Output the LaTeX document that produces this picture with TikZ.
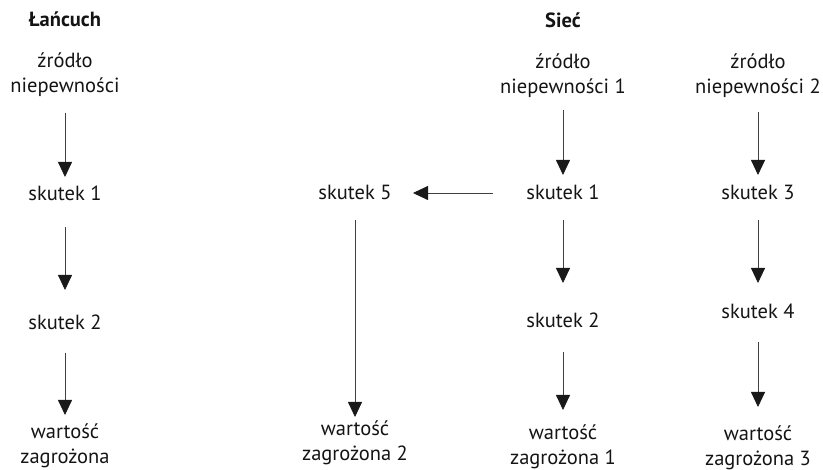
\documentclass[tikz,border=0pt]{standalone}
\usepackage{fontspec}
\setmainfont{PT Sans}
\usetikzlibrary{arrows.meta}
\newcommand{\twoline}[2]{\begin{tabular}[t]{@{}c@{}}#1\\#2\end{tabular}}
\begin{document}
\begin{tikzpicture}[x=1pt,y=-1pt,
  lbl/.style={inner sep=0pt, anchor=base, text=black!92, font=\fontsize{20.5}{24.5}\selectfont},
  ttl/.style={lbl, font=\fontsize{20.5}{24.5}\selectfont\bfseries},
  arr/.style={draw=black!75, line width=0.8pt, -{Triangle[width=14pt,length=15pt,color=black!90]}}
]
\useasboundingbox (0,0) rectangle (823,470);
% column 1: chain
\node[ttl] (t1) at (65,27) {Łańcuch};
\node[lbl] (c1s) at (65,68) {\twoline{źródło}{niepewności}};
\node[lbl] (c1k1) at (65,201) {skutek 1};
\node[lbl] (c1k2) at (65,330) {skutek 2};
\node[lbl] (c1w) at (65,439) {\twoline{wartość}{zagrożona}};
% network
\node[ttl] (t2) at (563,28) {Sieć};
\node[lbl] (s1) at (563,69) {\twoline{źródło}{niepewności 1}};
\node[lbl] (s2) at (758,69) {\twoline{źródło}{niepewności 2}};
\node[lbl] (k1) at (563,200) {skutek 1};
\node[lbl] (k3) at (758,200) {skutek 3};
\node[lbl] (k5) at (355,200) {skutek 5};
\node[lbl] (k2) at (563,328) {skutek 2};
\node[lbl] (k4) at (758,319) {skutek 4};
\node[lbl] (w2) at (355,436) {\twoline{wartość}{zagrożona 2}};
\node[lbl] (w1) at (563,440) {\twoline{wartość}{zagrożona 1}};
\node[lbl] (w3) at (758,441) {\twoline{wartość}{zagrożona 3}};
% arrows column 1
\draw[arr, shorten <=45pt, shorten >=24pt] (c1s.base) -- (c1k1.base);
\draw[arr, shorten <=26pt, shorten >=40pt] (c1k1.base) -- (c1k2.base);
\draw[arr, shorten <=23pt, shorten >=24pt] (c1k2.base) -- (c1w.base);
% network arrows
\draw[arr, shorten <=41pt, shorten >=25pt] (s1.base) -- (k1.base);
\draw[arr, shorten <=20pt, shorten >=45pt] (k1.base) -- (k2.base);
\draw[arr, shorten <=24pt, shorten >=30pt] (k2.base) -- (w1.base);
\draw[arr, shorten <=43pt, shorten >=25pt] (s2.base) -- (k3.base);
\draw[arr, shorten <=20pt, shorten >=36pt] (k3.base) -- (k4.base);
\draw[arr, shorten <=23pt, shorten >=34pt] (k4.base) -- (w3.base);
\draw[arr, shorten <=70pt, shorten >=58pt] ([yshift=7pt]k1.base) -- ([yshift=7pt]k5.base);
\draw[arr, shorten <=20pt, shorten >=19pt] (k5.base) -- (w2.base);
\end{tikzpicture}
\end{document}
